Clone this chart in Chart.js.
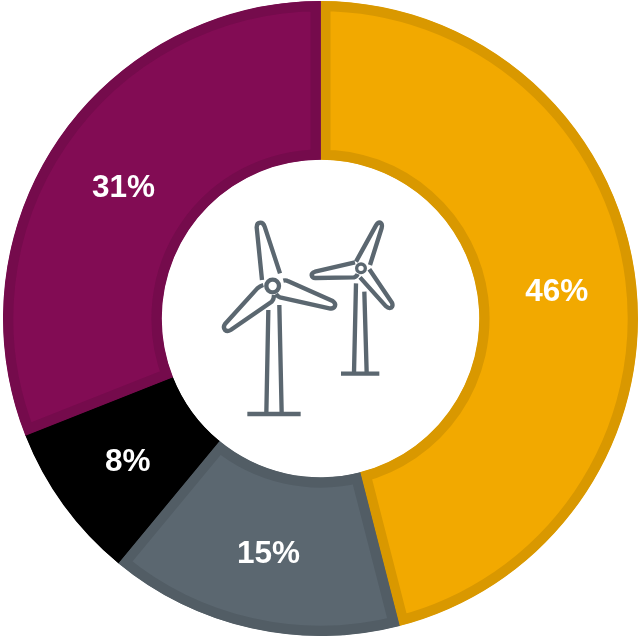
<!DOCTYPE html>
<html>
<head>
<meta charset="utf-8">
<title>Doughnut</title>
<style>
    html, body { margin: 0; padding: 0; background: #fff; }
    .wrap { position: relative; width: 638px; height: 636px; overflow: hidden; }
    .wrap svg { position: absolute; left: 200px; top: 200px; }
</style>
<script src="https://cdn.jsdelivr.net/npm/chart.js@4"></script>
</head>
<body>
<div class="wrap">
    <canvas id="shareChart" width="638" height="636"></canvas>
    <!-- turbine icon in the hole -->
    <svg width="220" height="230" viewBox="0 0 660 690" fill="none" stroke="#5b6770" stroke-width="13" stroke-linejoin="round">
        <circle cx="218" cy="258" r="19"/>
        <path d="M186 240 L170 82 Q170 68 181 68 Q190 68 194 80 L240 220"/>
        <path d="M250 242 Q258 240 265 244 L398 303 Q408 310 405 318 Q400 328 388 325 L240 292 Q232 288 228 282"/>
        <path d="M190 255 Q180 258 172 265 L75 372 Q68 382 75 390 Q82 396 92 390 L215 305 Q222 298 222 285"/>
        <path d="M205 330 L199 640 M238 315 L245 640 M142 642 L302 642"/>
        <circle cx="483" cy="205" r="13" stroke-width="10"/>
        <path d="M468 185 L528 76 Q534 66 541 68 Q548 72 545 84 L510 195"/>
        <path d="M465 187 L345 215 Q334 219 335 226 Q337 235 348 234 L462 232 Q470 230 473 222"/>
        <path d="M508 208 L576 308 Q580 318 574 323 Q566 327 558 319 L480 232"/>
        <path d="M468 250 L462 518 M493 275 L500 518 M423 521 L538 521"/>
    </svg>
</div>
<script>
const shareValues = [46, 15, 8, 31];
const shareLabels = ['46%', '15%', '8%', '31%'];
const fillColors = ['#f2a900', '#5b6770', '#000000', '#820c54'];
const edgeColors = ['#d99800', '#525d65', '#000000', '#750b4c'];

// percent text in the middle of each slice
const sliceText = {
    id: 'sliceText',
    afterDatasetsDraw(chart) {
        const ctx = chart.ctx;
        ctx.save();
        ctx.fillStyle = '#fff';
        ctx.font = 'bold 31.5px "Liberation Sans", Arial, sans-serif';
        ctx.textAlign = 'center';
        ctx.textBaseline = 'middle';
        chart.getDatasetMeta(0).data.forEach((arc, i) => {
            const p = arc.tooltipPosition();
            ctx.fillText(shareLabels[i], p.x, p.y + 3.5);
        });
        ctx.restore();
    }
};

new Chart(document.getElementById('shareChart'), {
    type: 'doughnut',
    data: {
        labels: shareLabels,
        datasets: [{
            data: shareValues,
            backgroundColor: fillColors,
            borderColor: edgeColors,
            borderWidth: 10,
            borderAlign: 'inner'
        }]
    },
    options: {
        responsive: false,
        animation: false,
        cutout: '50%',
        layout: { padding: { left: 3, right: 0, top: 1, bottom: 0 } },
        plugins: {
            legend: { display: false },
            tooltip: { enabled: false }
        }
    },
    plugins: [sliceText]
});
</script>
</body>
</html>
